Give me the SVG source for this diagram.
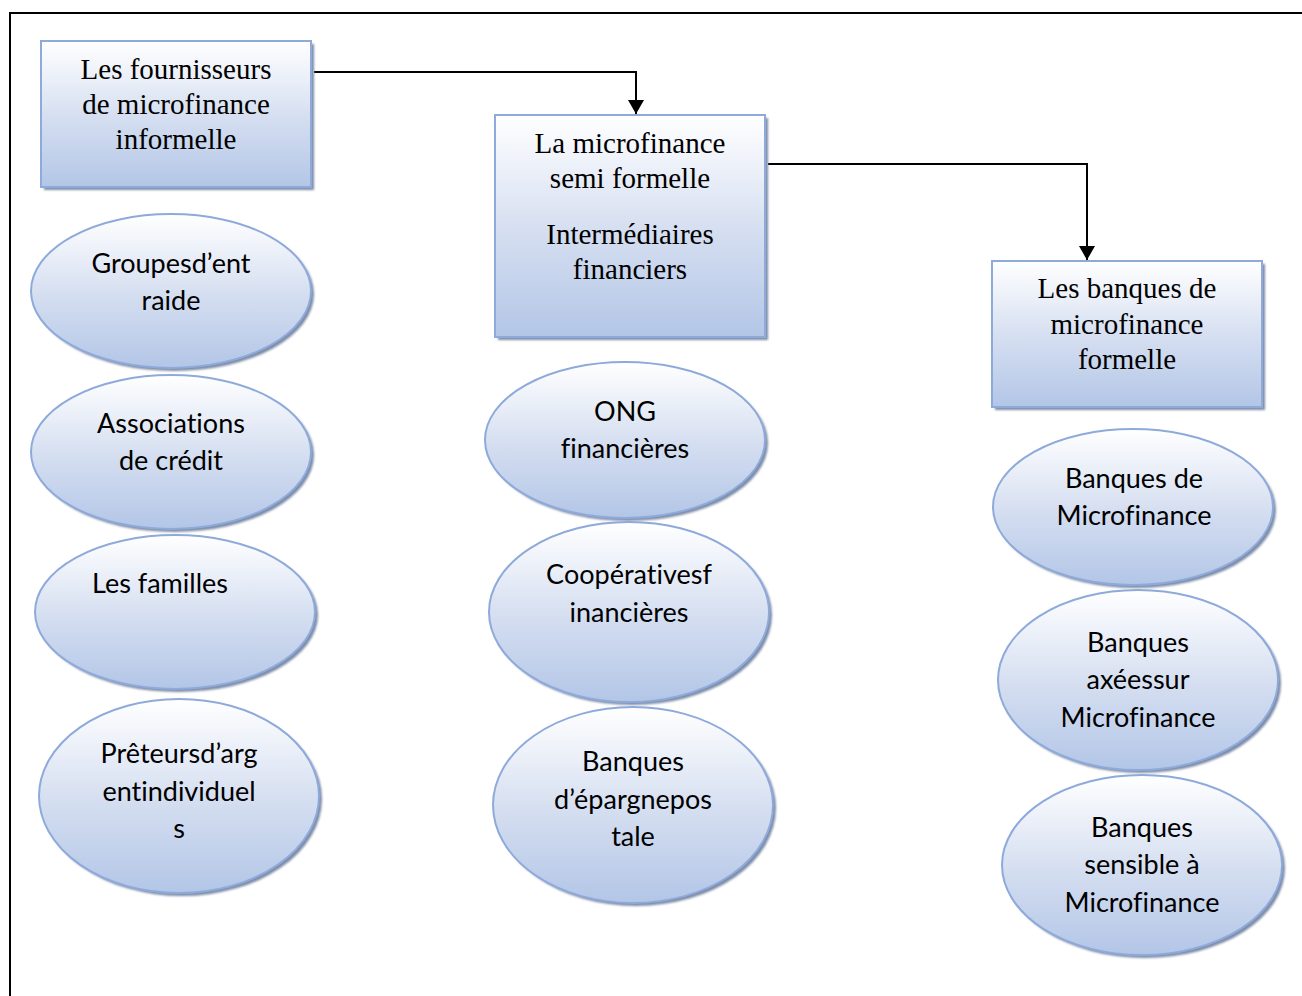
<svg xmlns="http://www.w3.org/2000/svg" width="1302" height="996" viewBox="0 0 1302 996">
  <defs>
    <linearGradient id="fillGrad" x1="0" y1="0" x2="0" y2="1">
      <stop offset="0" stop-color="#ffffff"/>
      <stop offset="0.55" stop-color="#d3ddf0"/>
      <stop offset="1" stop-color="#b3c6e7"/>
    </linearGradient>
    <filter id="soft" x="-10%" y="-10%" width="120%" height="120%">
      <feGaussianBlur stdDeviation="1.2"/>
    </filter>
    <marker id="arrowBig" viewBox="0 0 14 16" refX="14" refY="8" markerWidth="14" markerHeight="16" markerUnits="userSpaceOnUse" orient="auto">
      <path d="M0,0 L14,8 L0,16 z" fill="#000"/>
    </marker>
  </defs>
  <style>
    .shape { fill: url(#fillGrad); stroke: #8eaadb; stroke-width: 2; }
    .shadow { fill: #7d8ca8; filter: url(#soft); }
    .serif { font-family: "Liberation Serif", "Times New Roman", serif; font-size: 29px; fill: #000; text-anchor: middle; }
    .sans { font-family: Lato, "Open Sans", sans-serif; font-size: 27px; fill: #000; text-anchor: middle; font-variant-ligatures: none; }
    .conn { fill: none; stroke: #000; stroke-width: 2; }
  </style>

  <!-- outer frame -->
  <path d="M10,996 L10,13 L1302,13" fill="none" stroke="#000" stroke-width="2"/>

  <!-- connectors -->
  <g id="connectors">
    <path class="conn" d="M314,72 L636,72 L636,114" marker-end="url(#arrowBig)"/>
    <path class="conn" d="M768,164 L1087,164 L1087,260" marker-end="url(#arrowBig)"/>
  </g>

  <!-- column heads -->
  <g id="box-informelle">
    <rect class="shadow" x="44" y="44" width="270" height="146"/>
    <rect class="shape" x="41" y="41" width="270" height="146"/>
    <text class="serif" x="176" y="79">Les fournisseurs</text>
    <text class="serif" x="176" y="114">de microfinance</text>
    <text class="serif" x="176" y="149">informelle</text>
  </g>
  <g id="box-semi-formelle">
    <rect class="shadow" x="498" y="118" width="270" height="222"/>
    <rect class="shape" x="495" y="115" width="270" height="222"/>
    <text class="serif" x="630" y="153">La microfinance</text>
    <text class="serif" x="630" y="188">semi formelle</text>
    <text class="serif" x="630" y="244">Intermédiaires</text>
    <text class="serif" x="630" y="279">financiers</text>
  </g>
  <g id="box-formelle">
    <rect class="shadow" x="995" y="264" width="270" height="146"/>
    <rect class="shape" x="992" y="261" width="270" height="146"/>
    <text class="serif" x="1127" y="298">Les banques de</text>
    <text class="serif" x="1127" y="334">microfinance</text>
    <text class="serif" x="1127" y="369">formelle</text>
  </g>

  <!-- informal providers -->
  <g id="groupes-entraide">
    <ellipse class="shadow" cx="174" cy="294" rx="140" ry="77"/>
    <ellipse class="shape" cx="171" cy="291" rx="140" ry="77"/>
    <text class="sans" x="171" y="273">Groupesd’ent</text>
    <text class="sans" x="171" y="310">raide</text>
  </g>
  <g id="associations-credit">
    <ellipse class="shadow" cx="174" cy="455" rx="140" ry="77"/>
    <ellipse class="shape" cx="171" cy="452" rx="140" ry="77"/>
    <text class="sans" x="171" y="433">Associations</text>
    <text class="sans" x="171" y="470">de crédit</text>
  </g>
  <g id="familles">
    <ellipse class="shadow" cx="178" cy="615" rx="140" ry="77"/>
    <ellipse class="shape" cx="175" cy="612" rx="140" ry="77"/>
    <text class="sans" x="160" y="593">Les familles</text>
  </g>
  <g id="preteurs">
    <ellipse class="shadow" cx="182" cy="799" rx="140" ry="97"/>
    <ellipse class="shape" cx="179" cy="796" rx="140" ry="97"/>
    <text class="sans" x="179" y="763">Prêteursd’arg</text>
    <text class="sans" x="179" y="801">entindividuel</text>
    <text class="sans" x="179" y="838">s</text>
  </g>

  <!-- semi-formal providers -->
  <g id="ong">
    <ellipse class="shadow" cx="628" cy="443" rx="140" ry="78"/>
    <ellipse class="shape" cx="625" cy="440" rx="140" ry="78"/>
    <text class="sans" x="625" y="421">ONG</text>
    <text class="sans" x="625" y="458">financières</text>
  </g>
  <g id="cooperatives">
    <ellipse class="shadow" cx="632" cy="615" rx="140" ry="90"/>
    <ellipse class="shape" cx="629" cy="612" rx="140" ry="90"/>
    <text class="sans" x="629" y="584">Coopérativesf</text>
    <text class="sans" x="629" y="622">inancières</text>
  </g>
  <g id="epargne-postale">
    <ellipse class="shadow" cx="636" cy="808" rx="140" ry="98"/>
    <ellipse class="shape" cx="633" cy="805" rx="140" ry="98"/>
    <text class="sans" x="633" y="771">Banques</text>
    <text class="sans" x="633" y="809">d’épargnepos</text>
    <text class="sans" x="633" y="846">tale</text>
  </g>

  <!-- formal providers -->
  <g id="banques-microfinance">
    <ellipse class="shadow" cx="1136" cy="510" rx="140" ry="78"/>
    <ellipse class="shape" cx="1133" cy="507" rx="140" ry="78"/>
    <text class="sans" x="1134" y="488">Banques de</text>
    <text class="sans" x="1134" y="525">Microfinance</text>
  </g>
  <g id="banques-axees">
    <ellipse class="shadow" cx="1141" cy="683" rx="140" ry="90"/>
    <ellipse class="shape" cx="1138" cy="680" rx="140" ry="90"/>
    <text class="sans" x="1138" y="652">Banques</text>
    <text class="sans" x="1138" y="689">axéessur</text>
    <text class="sans" x="1138" y="727">Microfinance</text>
  </g>
  <g id="banques-sensibles">
    <ellipse class="shadow" cx="1145" cy="868" rx="140" ry="90"/>
    <ellipse class="shape" cx="1142" cy="865" rx="140" ry="90"/>
    <text class="sans" x="1142" y="837">Banques</text>
    <text class="sans" x="1142" y="874">sensible à</text>
    <text class="sans" x="1142" y="912">Microfinance</text>
  </g>
</svg>
